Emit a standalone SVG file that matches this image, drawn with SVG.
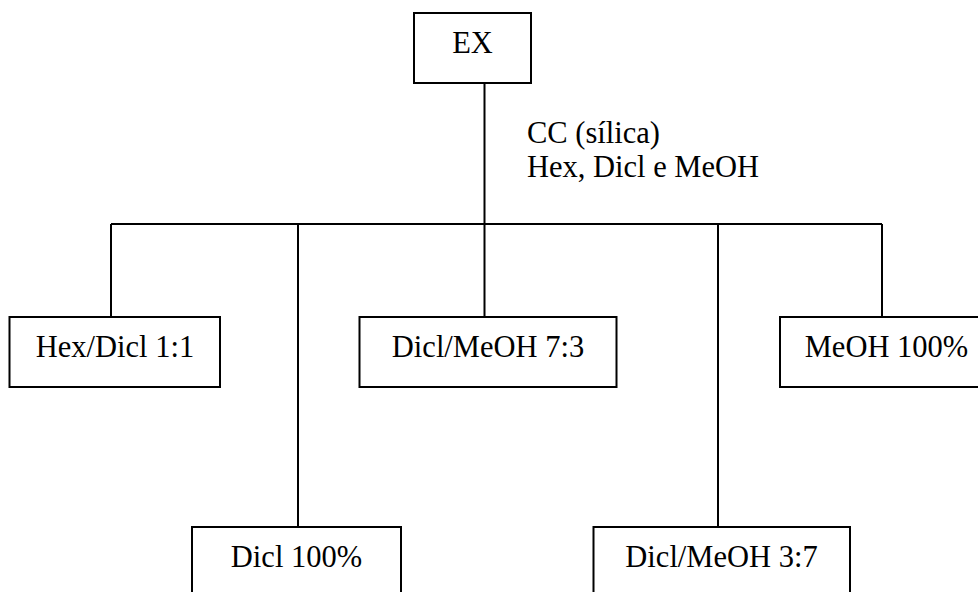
<svg xmlns="http://www.w3.org/2000/svg" width="978" height="592" viewBox="0 0 978 592">
<style>
.box{fill:#fff;stroke:#000;stroke-width:2}
.ln{fill:none;stroke:#000;stroke-width:2}
text{font-family:"Liberation Serif","Times New Roman",serif;font-size:30.5px;fill:#000}
.c{text-anchor:middle}
</style>
<rect width="978" height="592" fill="#fff"/>
<g id="connectors">
<path class="ln" d="M484.5 83V317 M111 224H882 M111 224V317 M298 224V527 M718 224V527 M882 224V317"/>
</g>
<g id="label-cc">
<text x="527" y="143">CC (sílica)</text>
<text x="527" y="177">Hex, Dicl e MeOH</text>
</g>
<g id="ex"><rect class="box" x="414" y="13" width="117" height="70"/><text class="c" x="472.5" y="53">EX</text></g>
<g id="hexdicl"><rect class="box" x="9.5" y="317" width="210.5" height="70"/><text class="c" x="115" y="357">Hex/Dicl 1:1</text></g>
<g id="diclmeoh73"><rect class="box" x="359.5" y="317" width="257" height="70"/><text class="c" x="488" y="357">Dicl/MeOH 7:3</text></g>
<g id="meoh100"><rect class="box" x="780" y="317" width="213" height="70"/><text class="c" x="886.5" y="357">MeOH 100%</text></g>
<g id="dicl100"><rect class="box" x="192" y="527" width="209" height="70"/><text class="c" x="296.5" y="567">Dicl 100%</text></g>
<g id="diclmeoh37"><rect class="box" x="593.5" y="527" width="256.5" height="70"/><text class="c" x="721.5" y="567">Dicl/MeOH 3:7</text></g>
</svg>
